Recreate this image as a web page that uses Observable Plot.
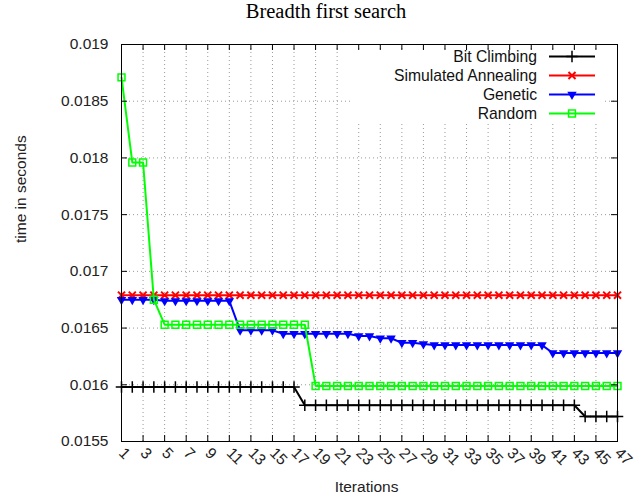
<!DOCTYPE html>
<html>
<head>
<meta charset="utf-8">
<script src="https://cdn.jsdelivr.net/npm/d3@7"></script>
<script src="https://cdn.jsdelivr.net/npm/@observablehq/plot@0.6"></script>
<style>
  body { margin: 0; background: #fff; }
  #wrap { position: relative; width: 642px; height: 499px; font-family: "Liberation Sans", Arial, sans-serif; }
  #title { position: absolute; left: 0; top: 0px; width: 652px; text-align: center;
           font-family: "Liberation Serif", "Times New Roman", serif; font-size: 20.5px; color: #000; }
  #legendbox { position: absolute; left: 352px; top: 50px; width: 251px; height: 73px; background: #fff; }
  .lrow { position: absolute; left: 0; width: 251px; height: 19px; }
  .ltext { position: absolute; right: 66px; top: 0; line-height: 19px; font-size: 15.7px; white-space: nowrap; color: #111; }
  .lsvg { position: absolute; left: 197px; top: 0; }
</style>
</head>
<body>
<div id="wrap">
  <div id="chart"></div>
  <div id="title">Breadth first search</div>
  <div id="legendbox"></div>
</div>
<script>
// ---- data ----
const iterations = d3.range(1, 48);
const xTicks = [1,3,5,7,9,11,13,15,17,19,21,23,25,27,29,31,33,35,37,39,41,43,45,47];
const yTicks = [0.0155, 0.016, 0.0165, 0.017, 0.0175, 0.018, 0.0185, 0.019];
const seriesNames = ["Bit Climbing", "Simulated Annealing", "Genetic", "Random"];

const bitClimbing = [
  0.01598,0.01598,0.01598,0.01598,0.01598,0.01598,0.01598,0.01598,0.01598,0.01598,
  0.01598,0.01598,0.01598,0.01598,0.01598,0.01598,0.01598,0.01582,0.01582,0.01582,
  0.01582,0.01582,0.01582,0.01582,0.01582,0.01582,0.01582,0.01582,0.01582,0.01582,
  0.01582,0.01582,0.01582,0.01582,0.01582,0.01582,0.01582,0.01582,0.01582,0.01582,
  0.01582,0.01582,0.01582,0.01572,0.01572,0.01572,0.01572
];
const simulatedAnnealing = [
  0.01679,0.01679,0.01679,0.01679,0.01679,0.01679,0.01679,0.01679,0.01679,0.01679,
  0.01679,0.01679,0.01679,0.01679,0.01679,0.01679,0.01679,0.01679,0.01679,0.01679,
  0.01679,0.01679,0.01679,0.01679,0.01679,0.01679,0.01679,0.01679,0.01679,0.01679,
  0.01679,0.01679,0.01679,0.01679,0.01679,0.01679,0.01679,0.01679,0.01679,0.01679,
  0.01679,0.01679,0.01679,0.01679,0.01679,0.01679,0.01679
];
const genetic = [
  0.01675,0.01675,0.01675,0.01675,0.01674,0.01674,0.01674,0.01674,0.01674,0.01674,
  0.01674,0.01648,0.01648,0.01648,0.01648,0.01645,0.01645,0.01645,0.01645,0.01645,
  0.01645,0.01645,0.01643,0.01643,0.01641,0.01641,0.01637,0.01637,0.01636,0.01635,
  0.01635,0.01635,0.01635,0.01635,0.01635,0.01635,0.01635,0.01635,0.01635,0.01635,
  0.01628,0.01628,0.01628,0.01628,0.01628,0.01628,0.01628
];
const random = [
  0.01871,0.01796,0.01796,0.01675,0.01653,0.01653,0.01653,0.01653,0.01653,0.01653,
  0.01653,0.01653,0.01653,0.01653,0.01653,0.01653,0.01653,0.01653,0.01599,0.01599,
  0.01599,0.01599,0.01599,0.01599,0.01599,0.01599,0.01599,0.01599,0.01599,0.01599,
  0.01599,0.01599,0.01599,0.01599,0.01599,0.01599,0.01599,0.01599,0.01599,0.01599,
  0.01599,0.01599,0.01599,0.01599,0.01599,0.01599,0.01599
];

// ---- styles ----
const W = 642, H = 499;
const M = {top: 44, right: 25, bottom: 58, left: 121};
const plotW = W - M.left - M.right, plotH = H - M.top - M.bottom;
const tickLen = 6;

const seriesStyle = [
  {name: seriesNames[0], values: bitClimbing,        color: "#000000", symbol: "plus",     r: 3.8, fill: "none",    stroke: "#000000", sw: 1.5, rotate: 0},
  {name: seriesNames[1], values: simulatedAnnealing, color: "#ff0000", symbol: "times",    r: 3.3, fill: "none",    stroke: "#ff0000", sw: 2,   rotate: 0},
  {name: seriesNames[2], values: genetic,            color: "#0000ff", symbol: "triangle", r: 3.5, fill: "#0000ff", stroke: "none",    sw: 0,   rotate: 180},
  {name: seriesNames[3], values: random,             color: "#00ff00", symbol: "square",   r: 3.9, fill: "none",    stroke: "#00ff00", sw: 1.5, rotate: 0}
];

const seriesMarks = seriesStyle.flatMap(s => {
  const rows = iterations.map((it, i) => ({it, v: s.values[i]}));
  return [
    Plot.line(rows, {x: "it", y: "v", stroke: s.color, strokeWidth: 2}),
    Plot.dot(rows, {x: "it", y: "v", symbol: s.symbol, r: s.r, fill: s.fill, stroke: s.stroke,
                    strokeWidth: s.sw, rotate: s.rotate})
  ];
});

const gridStyle = {stroke: "#999999", strokeOpacity: 1, strokeWidth: 1, strokeDasharray: "1,3"};

const chart = Plot.plot({
  width: W, height: H,
  marginTop: M.top, marginRight: M.right, marginBottom: M.bottom, marginLeft: M.left,
  style: {fontFamily: "'Liberation Sans', Arial, sans-serif", fontSize: "15.5px", color: "#000", background: "#fff", overflow: "visible"},
  x: {domain: [1, 47], axis: null},
  y: {domain: [0.0155, 0.019], axis: null},
  marks: [
    Plot.gridX(xTicks, gridStyle),
    Plot.gridY(yTicks, gridStyle),
    ...seriesMarks,
    Plot.tickX(xTicks, {x: d => d, insetTop: plotH - tickLen, stroke: "#000"}),
    Plot.tickX(xTicks, {x: d => d, insetBottom: plotH - tickLen, stroke: "#000"}),
    Plot.tickY(yTicks, {y: d => d, insetRight: plotW - tickLen, stroke: "#000"}),
    Plot.tickY(yTicks, {y: d => d, insetLeft: plotW - tickLen, stroke: "#000"}),
    Plot.frame({stroke: "#000", strokeWidth: 1}),
    Plot.axisY(yTicks, {tickSize: 0, tickPadding: 13, tickFormat: d => String(+d.toFixed(4)), label: null, fill: "#222"}),
    Plot.axisX(xTicks, {tickSize: 0, tickRotate: 45, textAnchor: "start", tickPadding: 9, label: null, fill: "#222"}),
    Plot.text(["Iterations"], {text: d => d, frameAnchor: "bottom", dy: 50, dx: -3, fill: "#222"}),
    Plot.text(["time in seconds"], {text: d => d, frameAnchor: "left", rotate: -90, dx: -100, fill: "#222"})
  ]
});
document.getElementById("chart").appendChild(chart);

// ---- legend (inside plot, top right, opaque box like gnuplot key) ----
const box = document.getElementById("legendbox");
const rowTops = [-3, 16, 35, 54];
seriesStyle.forEach((s, i) => {
  const row = document.createElement("div");
  row.className = "lrow";
  row.style.top = rowTops[i] + "px";
  const t = document.createElement("div");
  t.className = "ltext";
  t.textContent = s.name;
  row.appendChild(t);
  const svg = d3.create("svg").attr("class", "lsvg").attr("width", 46).attr("height", 19);
  svg.append("line").attr("x1", 0).attr("x2", 46).attr("y1", 9.5).attr("y2", 9.5)
     .attr("stroke", s.color).attr("stroke-width", 2);
  const symMap = {plus: d3.symbolPlus, times: d3.symbolTimes, triangle: d3.symbolTriangle, square: d3.symbolSquare};
  svg.append("path")
     .attr("d", d3.symbol(symMap[s.symbol], Math.PI * s.r * s.r)())
     .attr("transform", `translate(23,9.5) rotate(${s.rotate})`)
     .attr("fill", s.fill).attr("stroke", s.stroke).attr("stroke-width", s.sw);
  row.appendChild(svg.node());
  box.appendChild(row);
});
</script>
</body>
</html>
